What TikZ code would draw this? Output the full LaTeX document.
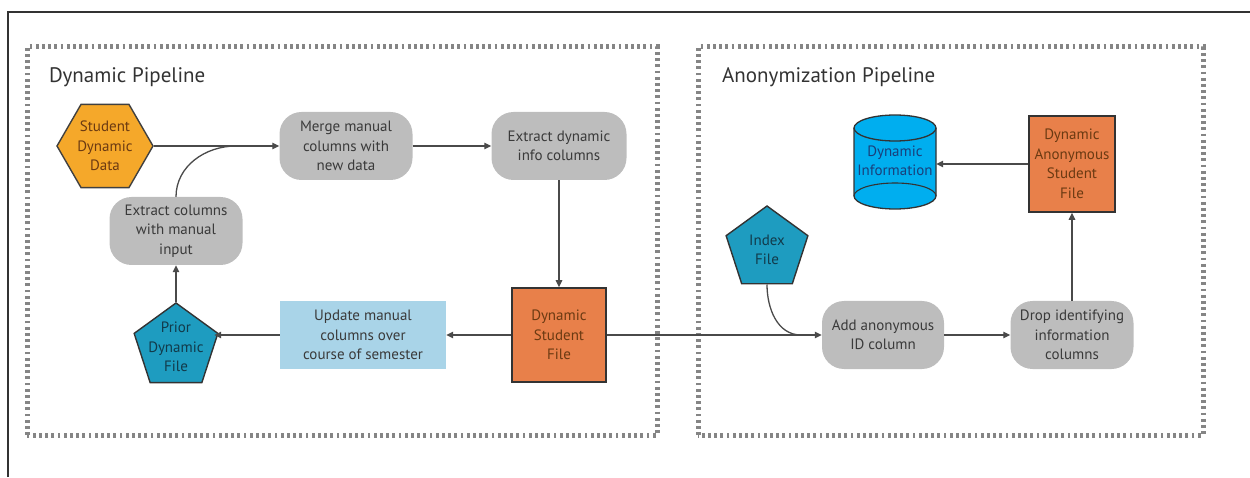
\documentclass[tikz,border=0pt]{standalone}
\usepackage{fontspec}
\setmainfont{PT Sans}
\usetikzlibrary{shapes.geometric,arrows.meta}
\definecolor{procgray}{HTML}{BDBDBD}
\definecolor{filebox}{HTML}{E8804A}
\definecolor{srchex}{HTML}{F5A82A}
\definecolor{pentblue}{HTML}{1E9CC0}
\definecolor{dbblue}{HTML}{00AEEF}
\definecolor{taskblue}{HTML}{A9D4E8}
\definecolor{txtgray}{HTML}{3A3A3A}
\definecolor{txtbrown}{HTML}{6B3A12}
\definecolor{txtnavy}{HTML}{1A3F7A}
\definecolor{txtteal}{HTML}{123A4A}
\definecolor{framegray}{HTML}{858585}
\definecolor{linegray}{HTML}{4A4A4A}
\tikzset{
  x=1pt, y=1pt,
  every node/.style={font=\fontsize{15}{19.5}\selectfont, align=center, inner sep=0pt},
  process/.style={rectangle, rounded corners=22pt, fill=procgray, text=txtgray,
    minimum width=133pt, minimum height=68pt},
  filesq/.style={rectangle, fill=filebox, draw=black!80, line width=1.6pt, text=txtbrown},
  srcdata/.style={regular polygon, regular polygon sides=6, minimum size=96pt,
    fill=srchex, draw=black!75, line width=1.4pt},
  pentfile/.style={regular polygon, regular polygon sides=5,
    fill=pentblue, draw=black!80, line width=1.4pt},
  manualtask/.style={rectangle, fill=taskblue, text=txtgray, minimum width=166pt, minimum height=67pt},
  group/.style={draw=framegray, line width=5pt, dash pattern=on 2.8pt off 3.4pt},
  flow/.style={draw=linegray, line width=1.3pt},
  arr/.style={flow, -{Triangle[length=7pt,width=6.5pt]}},
  title/.style={font=\fontsize{21}{24}\selectfont, text=black!80, anchor=west},
}
\begin{document}
\begin{tikzpicture}
\useasboundingbox (0,0) rectangle (1250,477);
% outer frame
\draw[black!80, line width=2pt] (8,0) -- (8,465) -- (1250,465);

% pipeline groups
\draw[group] (27,42) rectangle (657,430);
\draw[group] (698,42) rectangle (1203,430);
\node[title] (tdyn) at (49,400) {Dynamic Pipeline};
\node[title] (tanon) at (722,400) {Anonymization Pipeline};

% dynamic pipeline
\node[srcdata] (sdd) at (105,331) {};
\node[text=txtbrown] (sddt) at (sdd.center) {Student\\Dynamic\\Data};
\node[process] (merge) at (346,331) {Merge manual\\columns with\\new data};
\node[process] (extcols) at (176,246) {Extract columns\\with manual\\input};
\node[process, minimum width=135pt] (extdyn) at (559,331) {Extract dynamic\\info columns};
\node[filesq, minimum width=94pt, minimum height=94pt] (dsf) at (559,142) {Dynamic\\Student\\File};
\node[manualtask] (update) at (363,142) {Update manual\\columns over\\course of semester};
\node[pentfile, minimum size=88pt] (prior) at (176,130) {};
\node[text=txtteal] (priort) at (176,130) {Prior\\Dynamic\\File};

\draw[arr] (sdd.east) -- (merge.west);
\draw[flow] (extcols.north) to[out=90,in=180] (236,331);
\draw[arr] (merge.east) -- (extdyn.west);
\draw[arr] (extdyn.south) -- (dsf.north);
\draw[arr] (dsf.west) -- (update.east);
\draw[arr] (update.west) -- (prior.east |- update.west);
\draw[arr] (prior.north) -- (extcols.south);

% anonymization pipeline
\node[minimum width=82pt, minimum height=95pt] (dinfo) at (895,315) {};
\fill[dbblue] (854,349) -- (854,281) arc[start angle=180, end angle=360, x radius=41, y radius=13]
  -- (936,349) arc[start angle=0, end angle=180, x radius=41, y radius=13] -- cycle;
\draw[black!80, line width=1.3pt] (854,349) -- (854,281) arc[start angle=180, end angle=360, x radius=41, y radius=13]
  -- (936,349);
\draw[black!80, line width=1.3pt] (895,349) ellipse[x radius=41, y radius=13];
\draw[black!80, line width=1.1pt] (854,281) arc[start angle=180, end angle=0, x radius=41, y radius=13];
\node[text=txtnavy] (dinfot) at (895,316) {Dynamic\\Information};

\node[filesq, minimum width=86pt, minimum height=96pt] (dasf) at (1072,313) {Dynamic\\Anonymous\\Student\\File};
\node[pentfile, minimum size=86pt] (index) at (767,228) {};
\node[text=txtteal] (indext) at (767,227) {Index\\File};
\node[process, minimum width=122pt] (addid) at (883,142) {Add anonymous\\ID column};
\node[process, minimum width=123pt] (drop) at (1072,142) {Drop identifying\\information\\columns};

\draw[arr] (dsf.east) -- (addid.west);
\draw[flow] (index.south) to[out=-90,in=180] (801,142);
\draw[arr] (addid.east) -- (drop.west);
\draw[arr] (drop.north) -- (dasf.south);
\draw[arr] (dasf.west) -- (dinfo.east |- dasf.west);
\end{tikzpicture}
\end{document}
